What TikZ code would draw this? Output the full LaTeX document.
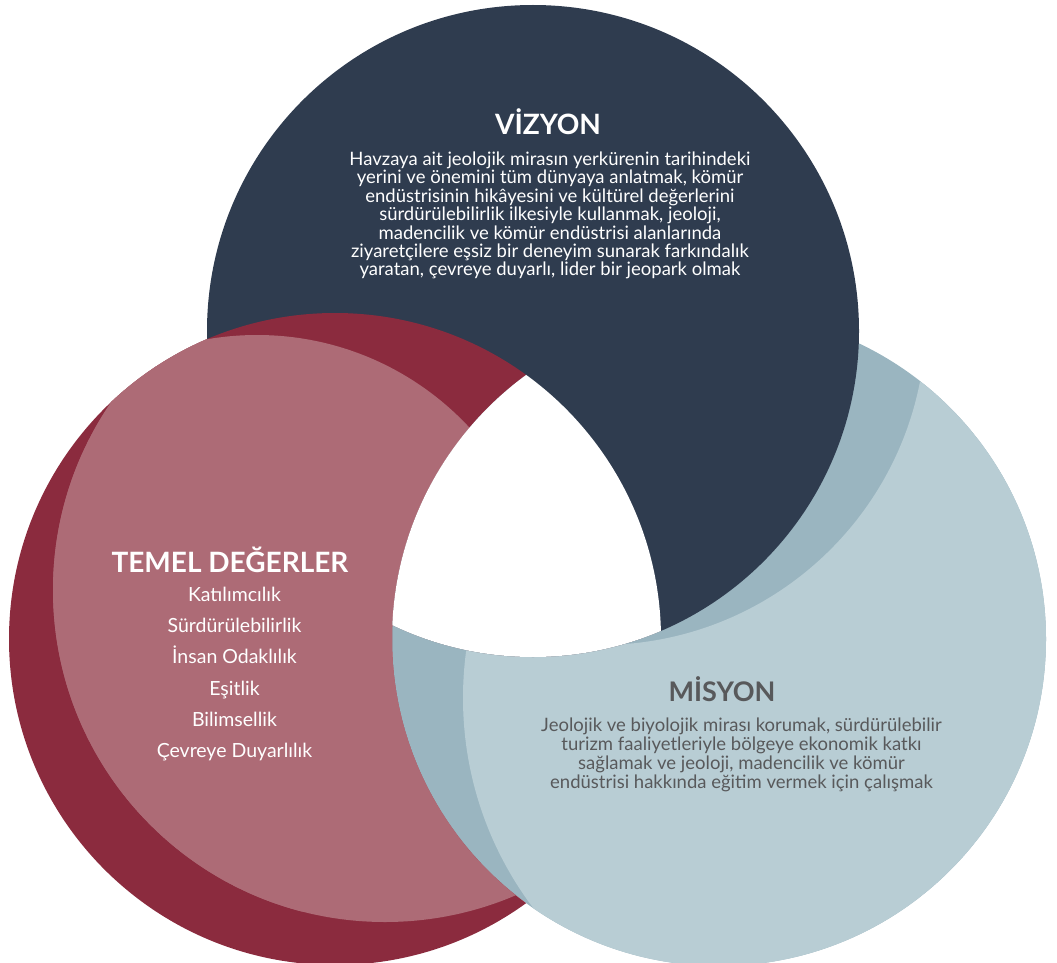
\documentclass[tikz,border=0pt]{standalone}
\usepackage{fontspec}
\setmainfont{Lato}
\definecolor{navyc}{HTML}{2F3C4F}
\definecolor{dredc}{HTML}{8B2B3E}
\definecolor{pinkc}{HTML}{AD6B76}
\definecolor{dbluec}{HTML}{9AB5C0}
\definecolor{lbluec}{HTML}{B8CDD4}
\definecolor{misgray}{HTML}{58595B}
\def\Ncirc{(533,331) circle[radius=326pt]}
\def\DRcirc{(335,639) circle[radius=326pt]}
\def\BBcirc{(719,639) circle[radius=327pt]}
\def\Acirc{(385,590) circle[radius=332pt]}
\def\Bcirc{(257,625) circle[radius=290pt]}
\def\Fcirc{(812,698) circle[radius=349pt]}
\def\Scirc{(600,319) circle[radius=326pt]}
\def\bigrect{(-100,-100) rectangle (1200,1100)}
\tikzset{
  headw/.style={text=white, inner sep=0pt, anchor=base, font=\fontsize{28}{30}\selectfont\bfseries},
  headg/.style={headw, text=misgray, font=\fontsize{27}{30}\selectfont\bfseries},
  vztext/.style={text=white, inner sep=0pt, anchor=base, font=\fontsize{18.5}{18}\selectfont},
  tdtext/.style={text=white, inner sep=0pt, anchor=base, font=\fontsize{19.5}{20}\selectfont},
  mstext/.style={text=misgray, inner sep=0pt, anchor=base, font=\fontsize{18.5}{18}\selectfont}
}
\begin{document}
\begin{tikzpicture}[x=1pt,y=-1pt]
\useasboundingbox (0,0) rectangle (1057,963);
% blue disc (bottom layer)
\fill[dbluec] \BBcirc;
\begin{scope}[even odd rule]
  \clip \BBcirc; \clip \Fcirc;
  \fill[lbluec] \bigrect \Scirc;
\end{scope}
% navy over blue
\fill[navyc] \Ncirc;
% red over navy, under blue
\begin{scope}[even odd rule]
  \clip \bigrect \BBcirc;
  \fill[dredc] \DRcirc;
  \begin{scope}
    \clip \DRcirc; \clip \Acirc;
    \fill[pinkc] \Bcirc;
    \fill[pinkc] \bigrect \Ncirc;
  \end{scope}
\end{scope}
% white centre
\begin{scope}
  \clip \Ncirc; \clip \DRcirc;
  \fill[white] \BBcirc;
\end{scope}
% texts
\node[headw] (vizh) at (548,135) {VİZYON};
\foreach \t [count=\i] in {
  {Havzaya ait jeolojik mirasın yerkürenin tarihindeki},
  {yerini ve önemini tüm dünyaya anlatmak, kömür},
  {endüstrisinin hikâyesini ve kültürel değerlerini},
  {sürdürülebilirlik ilkesiyle kullanmak, jeoloji,},
  {madencilik ve kömür endüstrisi alanlarında},
  {ziyaretçilere eşsiz bir deneyim sunarak farkındalık},
  {yaratan, çevreye duyarlı, lider bir jeopark olmak}}
  {\node[vztext] (vz\i) at (550,165.5+18.4*\i-18.4) {\t};}
\node[headw] (tdh) at (230,572) {TEMEL DEĞERLER};
\foreach \t [count=\i] in {Katılımcılık, Sürdürülebilirlik, İnsan Odaklılık, Eşitlik, Bilimsellik, Çevreye Duyarlılık}
  {\node[tdtext] (td\i) at (234.5,601.7+31.1*\i-31.1) {\t};}
\node[headg] (msh) at (722,701.5) {MİSYON};
\foreach \t [count=\i] in {
  {Jeolojik ve biyolojik mirası korumak, sürdürülebilir},
  {turizm faaliyetleriyle bölgeye ekonomik katkı},
  {sağlamak ve jeoloji, madencilik ve kömür},
  {endüstrisi hakkında eğitim vermek için çalışmak}}
  {\node[mstext] (ms\i) at (741.5,731+19.3*\i-19.3) {\t};}
\end{tikzpicture}
\end{document}
